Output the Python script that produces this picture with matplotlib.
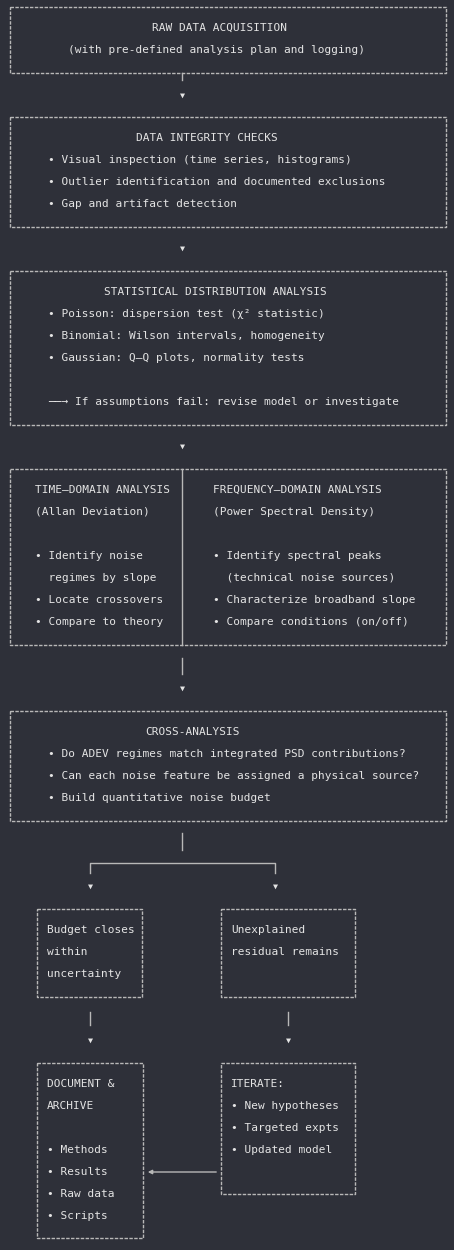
import matplotlib.pyplot as plt

BG = "#2e3039"
FG = "#e4e4e4"
LINE = "#b8b8b8"
FONT = "DejaVu Sans Mono"

# box text content
raw_lines = ["RAW DATA ACQUISITION", "(with pre-defined analysis plan and logging)"]
integrity_title = "DATA INTEGRITY CHECKS"
integrity_items = ["• Visual inspection (time series, histograms)",
                   "• Outlier identification and documented exclusions",
                   "• Gap and artifact detection"]
stat_title = "STATISTICAL DISTRIBUTION ANALYSIS"
stat_items = ["• Poisson: dispersion test (χ² statistic)",
              "• Binomial: Wilson intervals, homogeneity",
              "• Gaussian: Q–Q plots, normality tests",
              "",
              "──→ If assumptions fail: revise model or investigate"]
time_lines = ["TIME–DOMAIN ANALYSIS", "(Allan Deviation)", "",
              "• Identify noise", "  regimes by slope",
              "• Locate crossovers", "• Compare to theory"]
freq_lines = ["FREQUENCY–DOMAIN ANALYSIS", "(Power Spectral Density)", "",
              "• Identify spectral peaks", "  (technical noise sources)",
              "• Characterize broadband slope", "• Compare conditions (on/off)"]
cross_title = "CROSS-ANALYSIS"
cross_items = ["• Do ADEV regimes match integrated PSD contributions?",
               "• Can each noise feature be assigned a physical source?",
               "• Build quantitative noise budget"]
closes_lines = ["Budget closes", "within", "uncertainty"]
resid_lines = ["Unexplained", "residual remains"]
doc_lines = ["DOCUMENT &", "ARCHIVE", "", "• Methods", "• Results", "• Raw data", "• Scripts"]
iter_lines = ["ITERATE:", "• New hypotheses", "• Targeted expts", "• Updated model"]

fig = plt.figure(figsize=(4.54, 12.5), dpi=100, facecolor=BG)
ax = fig.add_axes([0, 0, 1, 1])
ax.set_facecolor(BG)
ax.set_xlim(0, 454)
ax.set_ylim(1250, 0)
ax.axis("off")

LS = (0, (2.5, 1))


def box(x0, x1, y0, y1):
    ax.plot([x0, x1, x1, x0, x0], [y0, y0, y1, y1, y0], color=LINE, lw=1, linestyle=LS)


def vline(x, y0, y1):
    ax.plot([x, x], [y0, y1], color=LINE, lw=1)


def arrow(x, y):
    ax.text(x, y, "▼", color=FG, fontsize=6, ha="center", va="center", family=FONT)


def lines(x, y0, texts, ha="left"):
    for i, t in enumerate(texts):
        ax.text(x, y0 + 22 * i, t, color=FG, fontsize=8, ha=ha, va="center", family=FONT)


box(10, 446, 7, 73)
lines(219, 28, raw_lines[:1], ha="center")
lines(68, 50, raw_lines[1:])
vline(182, 73, 80)
arrow(182, 95)

box(10, 446, 117, 227)
lines(207, 138, [integrity_title], ha="center")
lines(48, 160, integrity_items)
arrow(182, 248)

box(10, 446, 271, 425)
lines(215, 292, [stat_title], ha="center")
lines(48, 314, stat_items)
arrow(182, 446)

box(10, 446, 469, 645)
vline(182, 469, 645)
lines(35, 490, time_lines)
lines(213, 490, freq_lines)
vline(182, 658, 674)
arrow(182, 688)

box(10, 446, 711, 821)
lines(192, 732, [cross_title], ha="center")
lines(48, 754, cross_items)

vline(182, 833, 850)
ax.plot([90, 90, 275, 275], [873, 863, 863, 873], color=LINE, lw=1)
arrow(90, 886)
arrow(275, 886)

box(37, 142, 909, 997)
lines(47, 930, closes_lines)
box(221, 355, 909, 997)
lines(231, 930, resid_lines)

vline(90, 1012, 1025)
vline(288, 1012, 1025)
arrow(90, 1040)
arrow(288, 1040)

box(37, 143, 1063, 1238)
lines(47, 1084, doc_lines)
box(221, 355, 1063, 1194)
lines(231, 1084, iter_lines)

ax.annotate("", xy=(145, 1172), xytext=(219, 1172),
            arrowprops=dict(arrowstyle="-|>", color=LINE, lw=1, mutation_scale=6))

fig.savefig("out.png", dpi=100, facecolor=BG)
